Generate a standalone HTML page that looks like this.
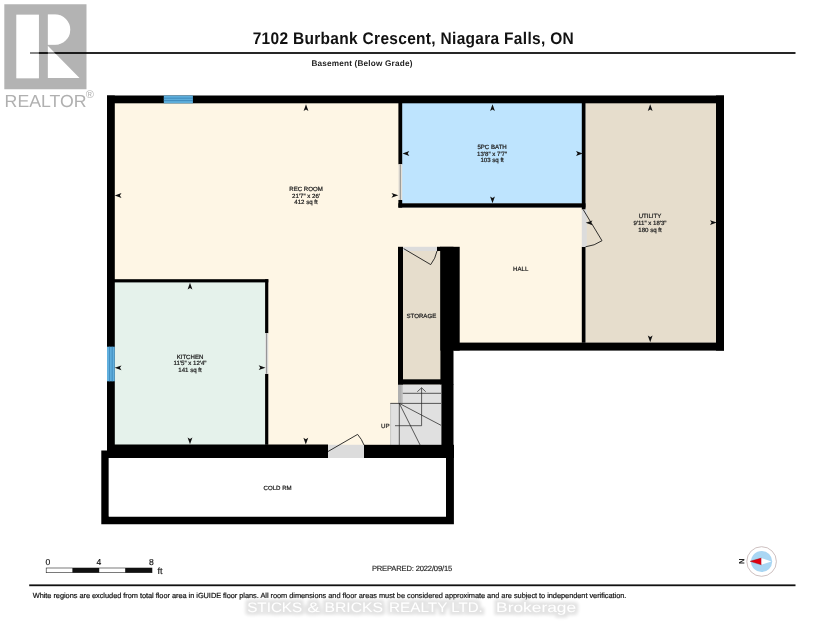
<!DOCTYPE html>
<html><head><meta charset="utf-8">
<style>
html,body{margin:0;padding:0;background:#fff;width:825px;height:637px;overflow:hidden}
svg{position:absolute;left:0;top:0;display:block;will-change:transform}
text{font-family:"Liberation Sans",sans-serif;text-rendering:geometricPrecision}
.lbl{font-size:6.1px;fill:#222;text-anchor:middle;stroke:#222;stroke-width:0.22px}
</style></head><body>
<svg width="825" height="637" viewBox="0 0 825 637">
<defs>
<path id="ar" d="M0,0 L-6.8,-2.4 L-5.2,0 L-6.8,2.4 Z" fill="#111"/>
</defs>

<!-- title -->
<text x="252.7" y="43.7" font-size="15.5" font-weight="bold" fill="#111" textLength="321" transform="translate(0,43.7) scale(1,1.09) translate(0,-43.7)">7102 Burbank Crescent, Niagara Falls, ON</text>
<rect x="30" y="52" width="765.5" height="2" fill="#262626"/>
<text x="311.4" y="66.3" font-size="8.2" font-weight="bold" fill="#222" textLength="101">Basement (Below Grade)</text>

<!-- REALTOR logo -->
<path fill="#000" fill-opacity="0.298" fill-rule="evenodd" d="M4.3,4.3 H86.5 V89.3 H4.3 Z M16.4,14.7 V78.2 H38.9 V14.7 Z M47.9,14.6 V44.8 H55.1 A15.1,15.1 0 0 0 55.1,14.6 Z M47.9,46 V78 H79.4 Z"/>
<g fill="#fff" fill-opacity="0.45">
<rect x="16.4" y="14.7" width="22.5" height="63.5"/>
<path d="M47.9,14.6 H55.1 A15.1,15.1 0 0 1 55.1,44.8 H47.9 Z"/>
<path d="M47.9,46 L79.4,78 L47.9,78 Z"/>
</g>
<text x="4.6" y="107.3" font-size="17.4" fill="#b0b0b0" textLength="82" lengthAdjust="spacingAndGlyphs">REALTOR</text>
<text x="85.8" y="97.6" font-size="11" fill="#b0b0b0">®</text>

<!-- FLOORS -->
<!-- cream rec room + hall -->
<path d="M114,103 H399 V208 H582 V343 H441 V445 H114 Z" fill="#fef6e5"/>
<!-- bath -->
<rect x="402" y="103" width="180" height="100.5" fill="#bee4fe"/>
<!-- utility -->
<rect x="585.5" y="103" width="131" height="239.8" fill="#e6ddcc"/>
<!-- kitchen -->
<rect x="114" y="282" width="151.5" height="163" fill="#e5f2eb"/>
<!-- storage -->
<rect x="403" y="251" width="37.5" height="128.5" fill="#e6ddcc"/>
<!-- stairs -->
<path d="M402.8,384.5 H441.5 V445.2 H390.2 V403.4 H402.8 Z" fill="#e0e0e0"/>
<path d="M390.6,445 V404.2 Q390.6,403.4 391.4,403.4 H399" fill="none" stroke="#aaa" stroke-width="0.5"/>
<rect x="398" y="384.5" width="4.8" height="19" fill="#b0b0b0"/>
<rect x="401.6" y="384.5" width="1.2" height="19" fill="#c8c8c8"/>

<!-- WALLS -->
<g fill="#000">
<!-- top exterior -->
<rect x="107" y="95.5" width="617" height="7.8"/>
<!-- left exterior -->
<rect x="107" y="95.5" width="7.8" height="362.5"/>
<!-- right exterior -->
<rect x="716" y="95.5" width="8" height="255.1"/>
<!-- bottom of hall/utility -->
<rect x="453.5" y="342.6" width="270.5" height="8"/>
<!-- column -->
<rect x="440.4" y="246.8" width="19.3" height="103.8"/>
<rect x="440.4" y="246.8" width="13.1" height="137.7"/>
<rect x="441.4" y="384" width="12.1" height="74"/>
<!-- bottom of rec/kitchen -->
<rect x="107" y="444.5" width="221" height="13.5"/>
<rect x="364" y="444.8" width="90" height="13.2"/>
<!-- bath left wall -->
<rect x="398.4" y="103" width="3.8" height="61.3"/>
<rect x="398.4" y="200" width="3.8" height="7.6"/>
<!-- bath bottom -->
<rect x="398.4" y="203.3" width="187.1" height="4.3"/>
<!-- utility left wall -->
<rect x="581.8" y="103" width="3.7" height="106.6"/>
<rect x="581.8" y="246.8" width="3.7" height="96"/>
<!-- storage left wall -->
<rect x="398" y="246.8" width="5" height="137.7"/>
<rect x="437" y="246.8" width="4" height="4.2"/>
<!-- storage bottom -->
<rect x="398" y="379.3" width="43" height="5.2"/>
<!-- kitchen top -->
<rect x="107" y="279.2" width="161.3" height="3.2"/>
<!-- kitchen right -->
<rect x="265.1" y="279.2" width="3.2" height="54"/>
<rect x="265.1" y="373.8" width="3.2" height="71"/>
</g>
<!-- cold room -->
<path d="M101.3,450.4 H453.9 V524.2 H101.3 Z M108.8,458 V516.5 H446 V458 Z" fill="#000" fill-rule="evenodd"/>
<rect x="108.8" y="458" width="337.2" height="58.5" fill="#fff"/>

<!-- windows -->
<g>
<rect x="163.8" y="95.5" width="29.1" height="7.8" fill="#5eaedb"/>
<rect x="163.8" y="97.7" width="29.1" height="0.9" fill="#3a86b8"/>
<rect x="163.8" y="100.2" width="29.1" height="0.9" fill="#3a86b8"/>
<rect x="107" y="346.7" width="7.8" height="34.6" fill="#62b0de"/>
<rect x="109.2" y="346.7" width="0.9" height="34.6" fill="#3a86b8"/>
<rect x="111.7" y="346.7" width="0.9" height="34.6" fill="#3a86b8"/>
</g>

<!-- doors -->
<!-- bath pocket door -->
<rect x="398.4" y="164.3" width="3.8" height="35.7" fill="#e4e0d8"/>
<line x1="400.3" y1="164.3" x2="400.3" y2="200" stroke="#555" stroke-width="0.6"/>
<!-- kitchen pocket door -->
<rect x="265.1" y="333.2" width="3.2" height="40.6" fill="#e0e0e0"/>
<line x1="266.6" y1="333.2" x2="266.6" y2="373.8" stroke="#555" stroke-width="0.6"/>
<!-- utility door -->
<rect x="581.8" y="209.6" width="5" height="37.2" fill="#dcdcdc"/>
<path d="M583.2,209.6 L602,240.7 A36.4,36.4 0 0 1 585.5,246.8" fill="none" stroke="#111" stroke-width="0.85"/>
<!-- storage door -->
<rect x="403" y="246.8" width="34" height="4.2" fill="#dcdcdc"/>
<path d="M403.6,248.6 L430.7,264.6 A31.5,31.5 0 0 0 437,251" fill="none" stroke="#111" stroke-width="0.85"/>
<!-- cold room door -->
<rect x="328" y="444.8" width="36" height="13.2" fill="#dcdcdc"/>
<path d="M328,451.5 L357.6,434.4 A34,34 0 0 1 364,445" fill="none" stroke="#111" stroke-width="0.85"/>

<!-- stairs lines -->
<g stroke="#1a1a1a" stroke-width="0.7" fill="none">
<line x1="402.8" y1="393.3" x2="441" y2="393.3"/>
<line x1="390.2" y1="403.4" x2="441" y2="403.4"/>
<line x1="399.3" y1="403.4" x2="399.3" y2="445.2"/>
<line x1="399.3" y1="403.4" x2="441" y2="425.3"/>
<line x1="399.3" y1="403.4" x2="420.2" y2="445.2"/>
<path d="M395,425.7 H421.6 V387.8 M417.3,391.7 L421.6,387.8 L425.7,391.7" stroke="#222"/>
</g>
<text x="385.3" y="428" font-size="6.2" text-anchor="middle" fill="#222" stroke="#222" stroke-width="0.2">UP</text>

<!-- arrows -->
<use href="#ar" transform="translate(306.0,104.2) rotate(-90)"/>
<use href="#ar" transform="translate(114.7,195.5) rotate(180)"/>
<use href="#ar" transform="translate(398.3,195.3)"/>
<use href="#ar" transform="translate(305.8,444.5) rotate(90)"/>

<use href="#ar" transform="translate(492.5,104.2) rotate(-90)"/>
<use href="#ar" transform="translate(492.5,203.3) rotate(90)"/>
<use href="#ar" transform="translate(402.5,153.5) rotate(180)"/>
<use href="#ar" transform="translate(582.8,153.5)"/>

<use href="#ar" transform="translate(650.2,104.2) rotate(-90)"/>
<use href="#ar" transform="translate(650.2,342.3) rotate(90)"/>
<use href="#ar" transform="translate(585.7,222.8) rotate(180)"/>
<use href="#ar" transform="translate(716.8,222.6)"/>

<use href="#ar" transform="translate(190.0,282.7) rotate(-90)"/>
<use href="#ar" transform="translate(190.0,444.3) rotate(90)"/>
<use href="#ar" transform="translate(114.7,367.8) rotate(180)"/>
<use href="#ar" transform="translate(265.5,367.7)"/>

<!-- labels -->
<text class="lbl" x="306" y="191"><tspan x="306">REC ROOM</tspan><tspan x="306" dy="6.6">21'7" x 26'</tspan><tspan x="306" dy="6.6">412 sq ft</tspan></text>
<text class="lbl" x="492.1" y="149.3"><tspan x="492.1">5PC BATH</tspan><tspan x="492.1" dy="6.45">13'8" x 7'7"</tspan><tspan x="492.1" dy="6.45">103 sq ft</tspan></text>
<text class="lbl" x="650" y="218.2"><tspan x="650">UTILITY</tspan><tspan x="650" dy="6.7">9'11" x 18'3"</tspan><tspan x="650" dy="6.8">180 sq ft</tspan></text>
<text class="lbl" x="190" y="358.8"><tspan x="190">KITCHEN</tspan><tspan x="190" dy="6.45">11'5" x 12'4"</tspan><tspan x="190" dy="6.45">141 sq ft</tspan></text>
<text class="lbl" x="520.7" y="271.3">HALL</text>
<text class="lbl" x="421.4" y="317.8">STORAGE</text>
<text class="lbl" x="277.6" y="489.5">COLD RM</text>

<!-- scale bar -->
<rect x="46.2" y="568" width="105.8" height="4.7" fill="#fff" stroke="#222" stroke-width="0.6"/>
<rect x="72.4" y="568" width="26.8" height="4.7" fill="#111"/>
<rect x="125.2" y="568" width="26.8" height="4.7" fill="#111"/>
<text x="47.9" y="564.5" font-size="8.6" text-anchor="middle" fill="#111" stroke="#111" stroke-width="0.15">0</text>
<text x="99" y="564.5" font-size="8.6" text-anchor="middle" fill="#111" stroke="#111" stroke-width="0.15">4</text>
<text x="151.4" y="564.5" font-size="8.6" text-anchor="middle" fill="#111" stroke="#111" stroke-width="0.15">8</text>
<text x="157.5" y="573.8" font-size="9" fill="#111" stroke="#111" stroke-width="0.15">ft</text>

<text x="371.9" y="571" font-size="7.6" fill="#222" stroke="#222" stroke-width="0.15" textLength="80.3">PREPARED: 2022/09/15</text>

<!-- compass -->
<circle cx="761.6" cy="561.5" r="14.8" fill="#fff" stroke="#c0b0b0" stroke-width="0.8"/>
<circle cx="761.6" cy="561.5" r="10.6" fill="#a9d6f3"/>
<path d="M750.1,561.3 L761.4,558.1 L761.4,564.8 Z" fill="#e00012" stroke="#900" stroke-width="0.4" stroke-linejoin="round"/>
<path d="M771.5,561.4 L761.4,558.1 L761.4,564.8 Z" fill="#fff"/>
<text x="0" y="0" font-size="7.8" font-weight="bold" fill="#222" transform="translate(741.8,561.2) rotate(90)" text-anchor="middle" dominant-baseline="central">N</text>

<!-- footer -->
<rect x="29.2" y="584.4" width="766.3" height="1.8" fill="#111"/>
<text x="32.7" y="597.7" font-size="7.4" fill="#111" stroke="#111" stroke-width="0.2" textLength="593.7">White regions are excluded from total floor area in iGUIDE floor plans. All room dimensions and floor areas must be considered approximate and are subject to independent verification.</text>

<!-- watermark -->
<filter id="wm" x="-5%" y="-60%" width="110%" height="220%">
 <feMorphology in="SourceAlpha" operator="dilate" radius="2.6" result="d"/>
 <feGaussianBlur in="d" stdDeviation="1.6" result="b"/>
 <feFlood flood-color="#e3e3e3"/>
 <feComposite in2="b" operator="in" result="sh"/>
 <feMerge><feMergeNode in="sh"/><feMergeNode in="SourceGraphic"/></feMerge>
</filter>
<g filter="url(#wm)" font-size="13.7" fill="#fff">
<text x="247.2" y="611.5" textLength="55" lengthAdjust="spacingAndGlyphs">STICKS</text>
<text x="307.3" y="611.5" textLength="12.5" lengthAdjust="spacingAndGlyphs">&amp;</text>
<text x="324.5" y="611.5" textLength="58.6" lengthAdjust="spacingAndGlyphs">BRICKS</text>
<text x="389.0" y="611.5" textLength="58.4" lengthAdjust="spacingAndGlyphs">REALTY</text>
<text x="451.2" y="611.5" textLength="31.5" lengthAdjust="spacingAndGlyphs">LTD.</text>
<text x="496.1" y="611.5" textLength="80" lengthAdjust="spacingAndGlyphs">Brokerage</text>
</g>
</svg>
</body></html>
